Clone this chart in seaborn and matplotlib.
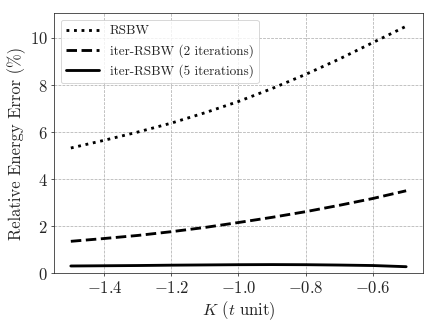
import matplotlib
matplotlib.use("Agg")
import matplotlib.pyplot as plt
import numpy as np
import pandas as pd
import seaborn as sns

# data
k_values = [-1.5, -1.4, -1.3, -1.2, -1.1, -1.0, -0.9, -0.8, -0.7, -0.6, -0.5]
rsbw = [5.32, 5.65, 6.0, 6.38, 6.82, 7.3, 7.85, 8.45, 9.1, 9.8, 10.5]
iter2 = [1.35, 1.47, 1.6, 1.76, 1.94, 2.15, 2.37, 2.61, 2.88, 3.17, 3.5]
iter5 = [0.3, 0.31, 0.32, 0.335, 0.345, 0.355, 0.36, 0.355, 0.34, 0.32, 0.27]
labels = ["RSBW", "iter-RSBW (2 iterations)", "iter-RSBW (5 iterations)"]
styles = [":", "--", "-"]

sns.set_style("ticks")
plt.rcParams.update({
    "font.family": "serif",
    "font.serif": ["cmr10", "DejaVu Serif"],
    "mathtext.fontset": "cm",
    "axes.formatter.use_mathtext": True,
    "axes.unicode_minus": True,
    "axes.edgecolor": "#222222",
})

df = pd.DataFrame({"K": k_values * 3,
                   "err": rsbw + iter2 + iter5,
                   "method": np.repeat(labels, len(k_values))})

fig, ax = plt.subplots(figsize=(6.4, 4.8), dpi=68.125)
for lab, ls in zip(labels, styles):
    sns.lineplot(data=df[df["method"] == lab], x="K", y="err", ax=ax,
                 color="black", linestyle=ls, linewidth=3, label=lab)

ax.set_ylim(0, 11.06)
ax.grid(True, linestyle="--", color="#b0b0b0", linewidth=0.8)
ax.set_xlabel(r"$K$ ($t$ unit)", fontsize=17.5)
ax.set_ylabel("Relative Energy Error (%)", fontsize=17.5)
ax.tick_params(labelsize=17.5)
ax.legend(loc="upper left", fontsize=14, handlelength=2.5)
fig.subplots_adjust(left=0.124, right=0.970, top=0.960, bottom=0.165)
fig.savefig("out.png")
